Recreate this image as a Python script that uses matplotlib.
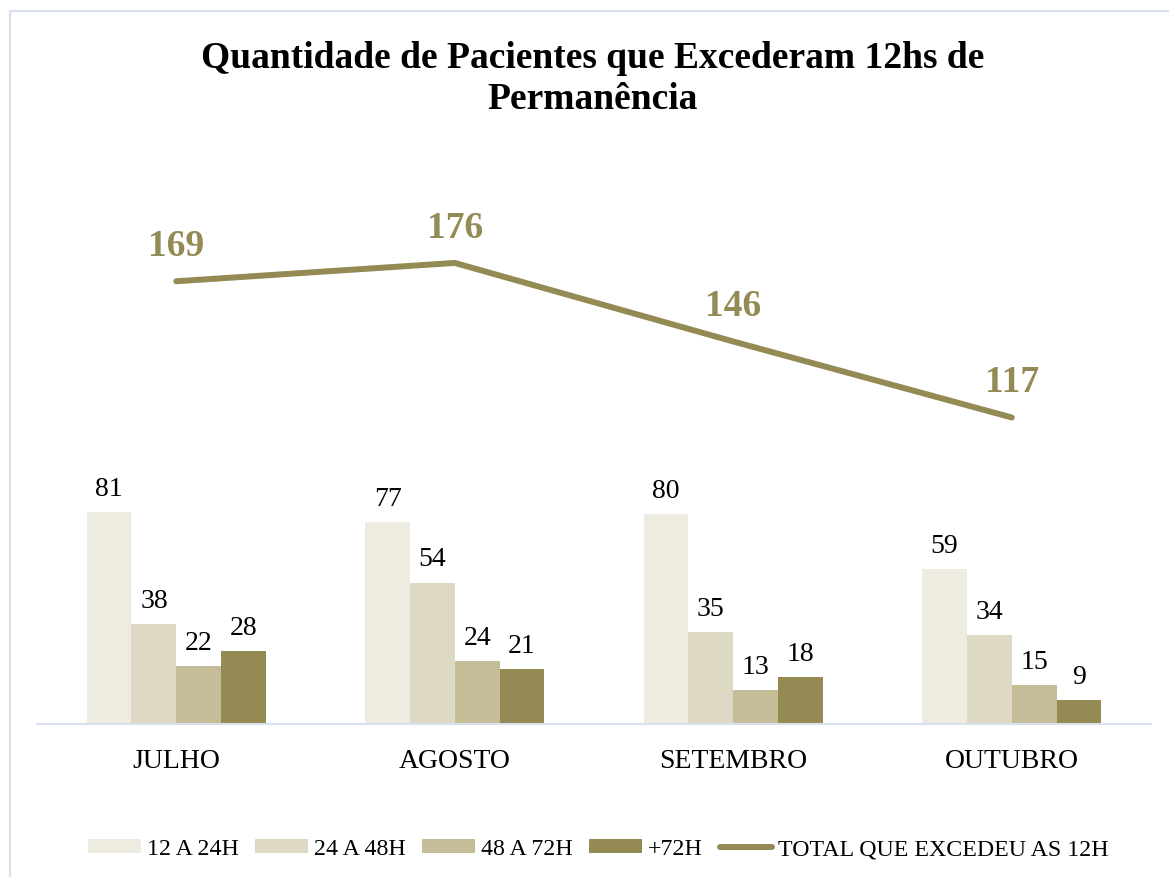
import numpy as np
import matplotlib
matplotlib.use("Agg")
import matplotlib.pyplot as plt
from matplotlib.patches import Rectangle

plt.rcParams['font.family'] = ['Liberation Serif', 'DejaVu Serif']

meses = ['JULHO', 'AGOSTO', 'SETEMBRO', 'OUTUBRO']
series = ['12 A 24H', '24 A 48H', '48 A 72H', '+72H']
h12_24 = [81, 77, 80, 59]
h24_48 = [38, 54, 35, 34]
h48_72 = [22, 24, 13, 15]
h72 = [28, 21, 18, 9]
total = [169, 176, 146, 117]
total_label = 'TOTAL QUE EXCEDEU AS 12H'

cores = ['#EEECE1', '#DDD9C4', '#C4BD97', '#948A54']
cor_linha = '#948A54'

fig = plt.figure(figsize=(11.69, 8.78), dpi=100)
ax = fig.add_axes([0.0317, 0.1743, 0.9529, 0.5967])

x = np.arange(len(meses))
w = 0.161
handles = []
for i, vals in enumerate([h12_24, h24_48, h48_72, h72]):
    bars = ax.bar(x + (i - 1.5) * w, vals, w, color=cores[i], label=series[i], zorder=2)
    handles.append(bars)
    for b, v in zip(bars, vals):
        ax.annotate(str(v), (b.get_x() + b.get_width() / 2, v), xytext=(0, 8),
                    textcoords='offset points', ha='center', va='bottom',
                    fontsize=20)

linha, = ax.plot(x, total, color=cor_linha, lw=4.3, solid_capstyle='round',
                 solid_joinstyle='round', label=total_label, zorder=3)
handles.append(linha)
for xi, v in zip(x, total):
    ax.annotate(str(v), (xi, v), xytext=(0, 13), textcoords='offset points',
                ha='center', va='bottom', fontsize=27, fontweight='bold',
                color=cor_linha)

ax.set_xlim(-0.5, 3.5)
ax.set_ylim(0, 200)
ax.set_xticks(x)
ax.set_xticklabels(meses, fontsize=20)
ax.tick_params(axis='x', length=0, pad=17)
ax.set_yticks([])
for s in ['top', 'right', 'left']:
    ax.spines[s].set_visible(False)
ax.spines['bottom'].set_color('#D9E1EF')
ax.spines['bottom'].set_linewidth(1.5)

fig.text(0.507, 0.910, 'Quantidade de Pacientes que Excederam 12hs de\nPermanência',
         ha='center', va='center', fontsize=27, fontweight='bold', linespacing=1.25)

fig.legend(handles, series + [total_label], loc='center',
           bbox_to_anchor=(0.512, 0.032), ncol=5, frameon=False,
           fontsize=17.2, handlelength=2.2, handleheight=0.5, handletextpad=0.25,
           columnspacing=0.7)

# borda clara do grafico
fig.patches.append(Rectangle((10 / 1169, -0.05), 1.2, 1 - 12 / 878 + 0.05,
                             transform=fig.transFigure, fill=False,
                             edgecolor='#D6E0EF', lw=1.5))

fig.savefig('out.png', dpi=100)
